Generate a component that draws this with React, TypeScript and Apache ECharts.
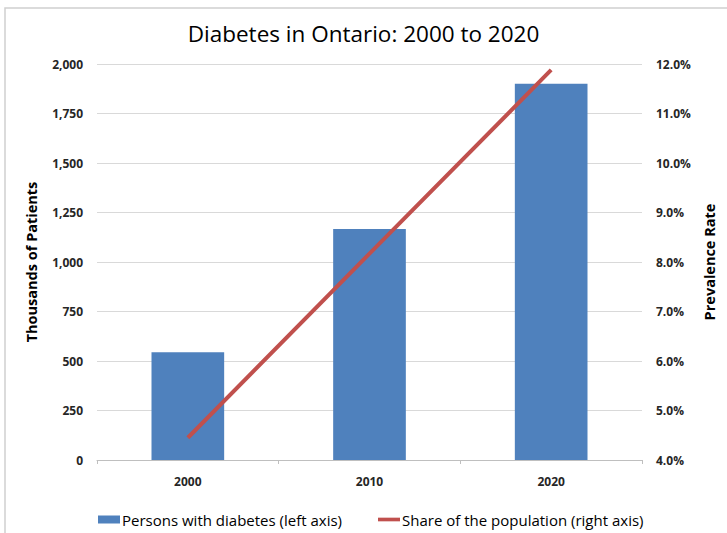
import React, { useEffect, useRef } from "react";
import * as echarts from "echarts";

const categories = ["2000", "2010", "2020"];
const persons = [544, 1167, 1900];
const share = [4.45, 8.17, 11.88];
const leftTicks = { min: 0, max: 2000, interval: 250 };
const rightTicks = { min: 4, max: 12, interval: 1 };

const FONT = "'Open Sans', 'Liberation Sans', sans-serif";

export default function App() {
  const ref = useRef<HTMLDivElement>(null);
  useEffect(() => {
    if (!ref.current) return;
    const chart = echarts.init(ref.current, null, { renderer: "svg" });
    chart.setOption({
      animation: false,
      backgroundColor: "#ffffff",
      title: {
        text: "Diabetes in Ontario: 2000 to 2020",
        left: "center",
        top: 17,
        textStyle: { fontFamily: FONT, fontSize: 22.5, fontWeight: 500, color: "#000" },
      },
      graphic: [
        {
          type: "rect",
          shape: { x: 5, y: 8, width: 760, height: 560 },
          style: { fill: "none", stroke: "#d0d0d0", lineWidth: 1.5 },
          silent: true,
        },
      ],
      grid: { left: 97, right: 85, top: 64, bottom: 73 },
      legend: {
        top: 507,
        left: 93,
        itemGap: 36,
        itemWidth: 22,
        itemHeight: 8,
        textStyle: { fontFamily: FONT, fontSize: 15, color: "#000", padding: [0, 0, 0, -3] },
        data: [
          { name: "Persons with diabetes (left axis)", icon: "rect" },
          { name: "Share of the population (right axis)", icon: "path://M0,0 L30,0 L30,5 L0,5 Z" },
        ],
      },
      xAxis: {
        type: "category",
        data: categories,
        axisLine: { lineStyle: { color: "#bfbfbf" } },
        axisTick: { show: true, length: 4, lineStyle: { color: "#bfbfbf" } },
        axisLabel: { fontFamily: FONT, fontSize: 12, fontWeight: "bold", color: "#262626", margin: 15 },
      },
      yAxis: [
        {
          type: "value",
          min: leftTicks.min,
          max: leftTicks.max,
          interval: leftTicks.interval,
          name: "Thousands of Patients",
          nameLocation: "middle",
          nameGap: 58,
          nameTextStyle: { fontFamily: FONT, fontSize: 14.5, fontWeight: "bold", color: "#000" },
          axisLine: { show: false },
          axisTick: { show: false },
          splitLine: { lineStyle: { color: "#d9d9d9", width: 1.2 } },
          axisLabel: {
            fontFamily: FONT,
            fontSize: 12,
            fontWeight: "bold",
            color: "#262626",
            margin: 14,
            formatter: (v: number) => v.toLocaleString("en-US"),
          },
        },
        {
          type: "value",
          min: rightTicks.min,
          max: rightTicks.max,
          interval: rightTicks.interval,
          position: "right",
          name: "Prevalence Rate",
          nameLocation: "middle",
          nameGap: 60,
          nameTextStyle: { fontFamily: FONT, fontSize: 14.5, fontWeight: "bold", color: "#000" },
          axisLine: { show: false },
          axisTick: { show: false },
          splitLine: { show: false },
          axisLabel: {
            fontFamily: FONT,
            fontSize: 12,
            fontWeight: "bold",
            color: "#262626",
            margin: 14,
            formatter: (v: number) => v.toFixed(1) + "%",
          },
        },
      ],
      series: [
        {
          name: "Persons with diabetes (left axis)",
          type: "bar",
          data: persons,
          barWidth: "40%",
          itemStyle: { color: "#4F81BD" },
          yAxisIndex: 0,
        },
        {
          name: "Share of the population (right axis)",
          type: "line",
          data: share,
          yAxisIndex: 1,
          symbol: "none",
          lineStyle: { color: "#C0504D", width: 4 },
          itemStyle: { color: "#C0504D" },
        },
      ],
    });
    return () => chart.dispose();
  }, []);
  return <div ref={ref} style={{ width: 727, height: 533, position: "absolute", left: 0, top: 0 }} />;
}
